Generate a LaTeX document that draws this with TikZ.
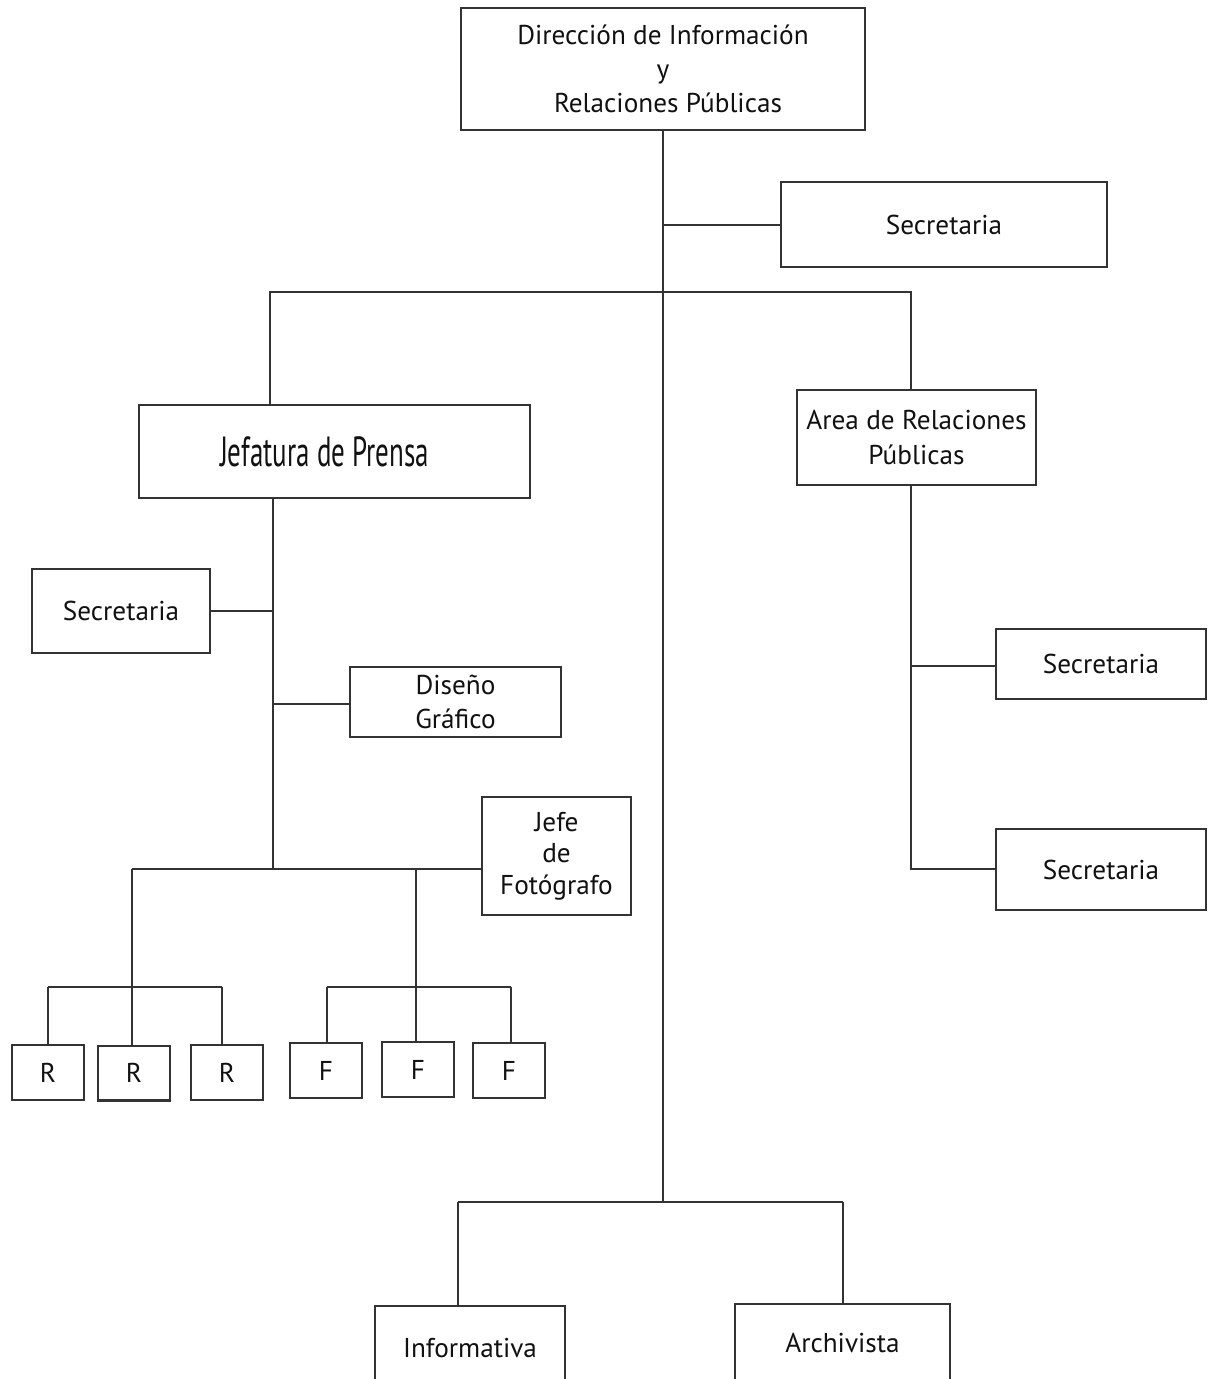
\documentclass[tikz,border=0pt]{standalone}
\usepackage{fontspec}
\setmainfont{PT Sans}
\usepackage{graphicx}
\definecolor{ln}{HTML}{333333}
\definecolor{tx}{HTML}{111111}
\begin{document}
\begin{tikzpicture}[x=0.02cm,y=-0.02cm,
  box/.style={draw=ln,line width=1.15pt,fill=white,inner sep=0pt,align=center,text=tx,font=\fontsize{15.5}{19}\selectfont},
  wire/.style={draw=ln,line width=1.15pt}]
\useasboundingbox (0,0) rectangle (1208,1379);
\clip (0,0) rectangle (1208,1379);
\fill[white] (0,0) rectangle (1208,1379);
% nodes
\node[box,minimum width=8.08cm,minimum height=2.44cm] (top) at (663,69) {Dirección de Información\\[0.5pt]y\\[0.5pt]\hspace*{0.2cm}Relaciones Públicas};
\node[box,minimum width=6.52cm,minimum height=1.7cm] (sec1) at (944,224.5) {Secretaria};
\node[box,minimum width=7.82cm,minimum height=1.86cm] (jef) at (334.5,451.5) {\hspace*{-0.4cm}\fontsize{24}{28}\selectfont\scalebox{0.64}[1]{Jefatura de Prensa}};
\node[box,minimum width=4.78cm,minimum height=1.9cm] (area) at (916.5,437.5) {Area de Relaciones\\[0.5pt]Públicas};
\node[box,minimum width=4.2cm,minimum height=1.4cm] (secr1) at (1101,664) {Secretaria};
\node[box,minimum width=4.2cm,minimum height=1.62cm] (secr2) at (1101,869.5) {Secretaria};
\node[box,minimum width=3.56cm,minimum height=1.68cm] (secl) at (121,611) {Secretaria};
\node[box,minimum width=4.22cm,minimum height=1.4cm] (dis) at (455.5,702) {Diseño\\Gráfico};
\node[box,minimum width=2.98cm,minimum height=2.36cm] (jefe) at (556.5,856) {Jefe\\[-1pt]de\\[-1pt]Fotógrafo};
\node[box,minimum width=1.44cm,minimum height=1.1cm] (r1) at (48,1072.5) {R};
\node[box,minimum width=1.44cm,minimum height=1.1cm] (r2) at (134,1073) {R};
\node[box,minimum width=1.44cm,minimum height=1.1cm] (r3) at (227,1072.5) {R};
\node[box,minimum width=1.44cm,minimum height=1.1cm] (f1) at (326,1070.5) {F};
\node[box,minimum width=1.44cm,minimum height=1.1cm] (f2) at (418,1069.5) {F};
\node[box,minimum width=1.44cm,minimum height=1.1cm] (f3) at (509,1070.5) {F};
\node[box,minimum width=3.8cm,minimum height=1.68cm] (info) at (470,1348) {Informativa};
\node[box,minimum width=4.3cm,minimum height=1.56cm] (arch) at (842.5,1343) {Archivista};
% junction coordinates
\coordinate (tb) at (663,1202);
\coordinate (s1) at (663,225);
\coordinate (b1) at (663,292);
\coordinate (bl) at (270,292);
\coordinate (br) at (911,292);
\coordinate (ab) at (911,869);
\coordinate (ar1) at (911,666);
\coordinate (jb) at (273,869);
\coordinate (jl1) at (273,611);
\coordinate (jl2) at (273,704);
\coordinate (pl) at (132,869);
\coordinate (pm) at (416,869);
\coordinate (rb) at (132,987);
\coordinate (rl) at (48,987);
\coordinate (rr) at (222,987);
\coordinate (fb) at (416,987);
\coordinate (fl) at (327,987);
\coordinate (fr) at (511,987);
\coordinate (bbl) at (458,1202);
\coordinate (bbr) at (843,1202);
% connectors
\draw[wire] (top.south) -- (tb);
\draw[wire] (s1) -- (sec1.west |- s1);
\draw[wire] (jef.north -| bl) -- (bl) -- (br) -- (area.north -| br);
\draw[wire] (area.south -| ab) -- (ab) -- (secr2.west |- ab);
\draw[wire] (ar1) -- (secr1.west |- ar1);
\draw[wire] (jef.south -| jb) -- (jb);
\draw[wire] (secl.east |- jl1) -- (jl1);
\draw[wire] (jl2) -- (dis.west |- jl2);
\draw[wire] (pl) -- (jefe.west |- pl);
\draw[wire] (pl) -- (rb);
\draw[wire] (pm) -- (fb);
\draw[wire] (rl) -- (rr);
\draw[wire] (fl) -- (fr);
\draw[wire] (rl) -- (r1.north -| rl);
\draw[wire] (rb) -- (r2.north -| rb);
\draw[wire] (rr) -- (r3.north -| rr);
\draw[wire] (fl) -- (f1.north -| fl);
\draw[wire] (fb) -- (f2.north -| fb);
\draw[wire] (fr) -- (f3.north -| fr);
\draw[wire] (bbl) -- (bbr);
\draw[wire] (bbl) -- (info.north -| bbl);
\draw[wire] (bbr) -- (arch.north -| bbr);
\end{tikzpicture}
\end{document}
